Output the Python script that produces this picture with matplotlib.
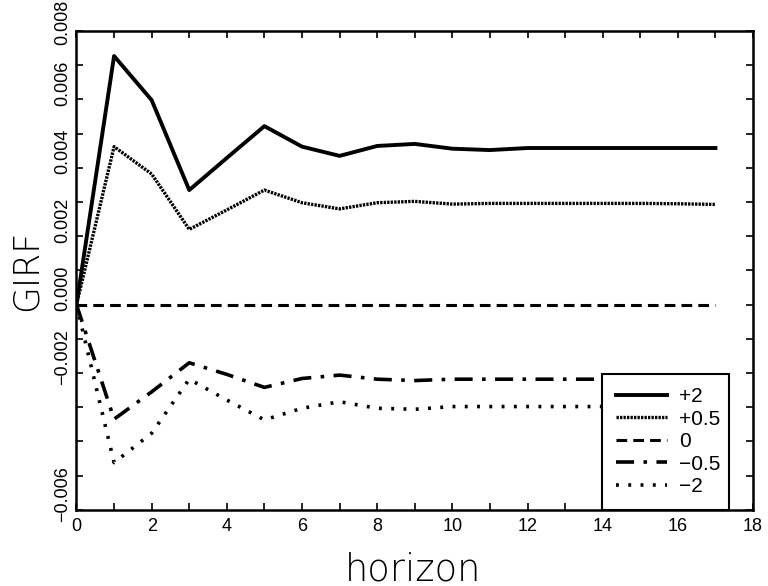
import matplotlib
matplotlib.use("Agg")
import matplotlib.pyplot as plt
import matplotlib.transforms as mtransforms
from matplotlib.ticker import MultipleLocator, FixedLocator

horizon = list(range(18))
girf_p2 = [0, 0.00727, 0.00598, 0.00335, 0.00429, 0.00522, 0.00462, 0.00435, 0.00464, 0.00470,
           0.00456, 0.00452, 0.00458, 0.00458, 0.00458, 0.00458, 0.00458, 0.00458]
girf_p05 = [0, 0.00462, 0.00382, 0.00220, 0.00277, 0.00335, 0.00298, 0.00280, 0.00298, 0.00302,
            0.00294, 0.00296, 0.00296, 0.00296, 0.00296, 0.00296, 0.00295, 0.00293]
girf_0 = [0.0] * 18
girf_m05 = [0, -0.00335, -0.00255, -0.00170, -0.00204, -0.00242, -0.00216, -0.00206, -0.00218, -0.00222,
            -0.00218, -0.00218, -0.00218, -0.00218, -0.00218, -0.00218, -0.00218, -0.00218]
girf_m2 = [0, -0.00462, -0.00376, -0.00218, -0.00279, -0.00337, -0.00303, -0.00284, -0.00303, -0.00306,
           -0.00298, -0.00298, -0.00298, -0.00298, -0.00298, -0.00298, -0.00298, -0.00298]
labels = ["+2", "+0.5", "0", "\u22120.5", "\u22122"]
y_ticks = [-0.006, -0.002, 0.0, 0.002, 0.004, 0.006, 0.008]
x_ticks = list(range(0, 19, 2))

plt.rcParams['font.family'] = ['Liberation Sans', 'DejaVu Sans']

fig = plt.figure(figsize=(7.68, 5.86), dpi=100)
ax = fig.add_axes([0.0996, 0.130, 0.8809, 0.817])

styles = [
    dict(linestyle='-', linewidth=2.8),
    dict(linestyle=(0, (0.7, 0.35)), linewidth=2.4),
    dict(linestyle=(0, (3.5, 2.0)), linewidth=2.2),
    dict(linestyle=(0, (5.0, 2.6, 1.0, 2.6)), linewidth=2.6),
    dict(linestyle=(0, (0.8, 2.6)), linewidth=2.6),
]
series = [girf_p2, girf_p05, girf_0, girf_m05, girf_m2]
for s, lab, st in zip(series, labels, styles):
    ax.plot(horizon, s, color='black', label=lab, **st)

ax.set_xlim(0, 18)
ax.set_ylim(-0.006, 0.008)
ax.xaxis.set_major_locator(FixedLocator(x_ticks))
ax.xaxis.set_minor_locator(MultipleLocator(1))
ax.yaxis.set_major_locator(FixedLocator(y_ticks))
ax.yaxis.set_minor_locator(MultipleLocator(0.001))
ax.set_xticklabels([str(v) for v in x_ticks], fontsize=13)
ax.set_yticklabels([])
ax.tick_params(which='both', direction='in', top=True, right=True, length=5, width=1.2)
ax.tick_params(axis='x', pad=6)
for sp in ax.spines.values():
    sp.set_linewidth(1.8)

# rotated y tick labels (drawn slightly above their ticks, as in the reference)
ytrans = ax.get_yaxis_transform()
for v in y_ticks:
    up = 9 if v == max(y_ticks) else 16
    tr = mtransforms.offset_copy(ytrans, fig=fig, x=-5, y=up, units='dots')
    ax.text(0, v, f"{v:.3f}".replace('-', '\u2212'), transform=tr, rotation=90,
            ha='right', va='center', fontsize=13, clip_on=False)

fig.text(0.0345, 0.539, "GIRF", rotation=90, ha='center', va='center', fontsize=25,
         family=['DejaVu Sans'], fontweight=200)
fig.text(0.538, 0.0102, "horizon", ha='center', va='baseline', fontsize=26.5,
         family=['DejaVu Sans'], fontweight=200)

leg = ax.legend(loc='lower left', bbox_to_anchor=(0.777, 0.0, 0.188, 0.28), mode='expand',
                fontsize=15, frameon=True, fancybox=False, handlelength=2.45, borderpad=0.65,
                labelspacing=0.17, handletextpad=0.6, borderaxespad=0.0)
leg.get_frame().set_edgecolor('black')
leg.get_frame().set_linewidth(1.5)
leg.get_frame().set_alpha(1.0)

fig.savefig("out.png", dpi=100)
